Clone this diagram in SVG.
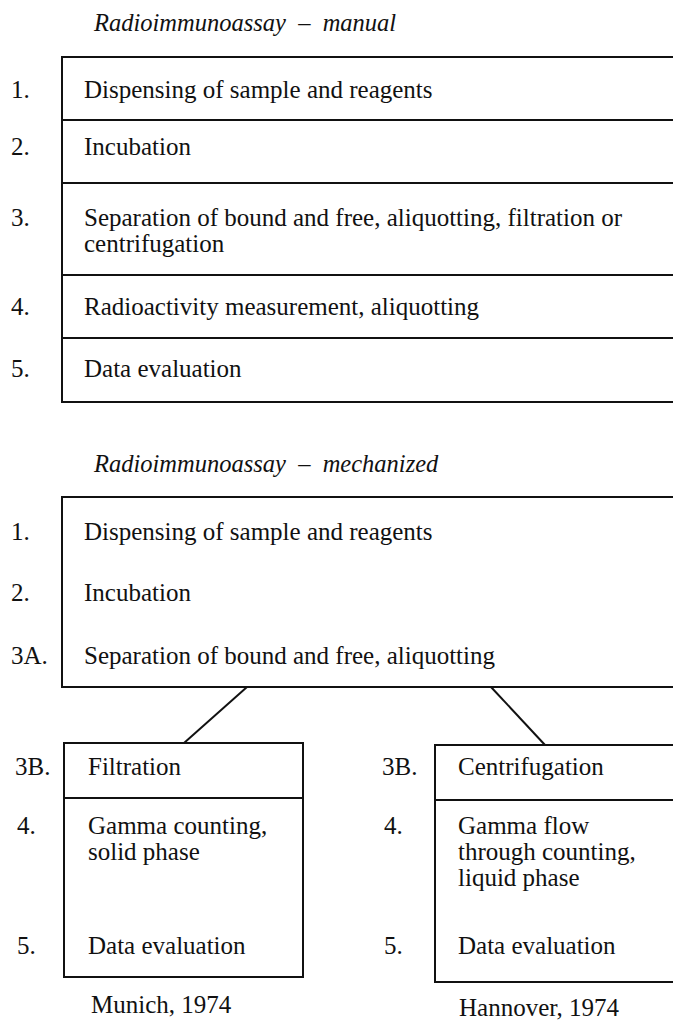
<svg xmlns="http://www.w3.org/2000/svg" width="673" height="1020" viewBox="0 0 673 1020">
  <style>
    .frame { fill: none; stroke: #111; stroke-width: 2; }
    .rule { stroke: #111; stroke-width: 2; }
    .txt { font-family: "Liberation Serif", "Times New Roman", serif; font-size: 25px; fill: #111; }
    .ttl { font-family: "Liberation Serif", "Times New Roman", serif; font-size: 24.5px; font-style: italic; fill: #111; }
  </style>
  <rect width="673" height="1020" fill="#fff"/>

  <!-- Manual procedure -->
  <g id="manual">
    <text class="ttl" x="94" y="31" xml:space="preserve">Radioimmunoassay  –  manual</text>
    <rect class="frame" x="62" y="57" width="630" height="345"/>
    <line class="rule" x1="62" y1="120" x2="673" y2="120"/>
    <line class="rule" x1="62" y1="183" x2="673" y2="183"/>
    <line class="rule" x1="62" y1="275" x2="673" y2="275"/>
    <line class="rule" x1="62" y1="338" x2="673" y2="338"/>
    <text class="txt" x="11" y="98">1.</text>
    <text class="txt" x="84" y="98">Dispensing of sample and reagents</text>
    <text class="txt" x="11" y="155">2.</text>
    <text class="txt" x="84" y="155">Incubation</text>
    <text class="txt" x="11" y="226">3.</text>
    <text class="txt" x="84" y="226">Separation of bound and free, aliquotting, filtration or</text>
    <text class="txt" x="84" y="252">centrifugation</text>
    <text class="txt" x="11" y="315">4.</text>
    <text class="txt" x="84" y="315">Radioactivity measurement, aliquotting</text>
    <text class="txt" x="11" y="377">5.</text>
    <text class="txt" x="84" y="377">Data evaluation</text>
  </g>

  <!-- Mechanized procedure, shared steps -->
  <g id="mechanized">
    <text class="ttl" x="94" y="472" xml:space="preserve">Radioimmunoassay  –  mechanized</text>
    <rect class="frame" x="62" y="497" width="630" height="190"/>
    <text class="txt" x="11" y="540">1.</text>
    <text class="txt" x="84" y="540">Dispensing of sample and reagents</text>
    <text class="txt" x="11" y="601">2.</text>
    <text class="txt" x="84" y="601">Incubation</text>
    <text class="txt" x="11" y="664">3A.</text>
    <text class="txt" x="84" y="664">Separation of bound and free, aliquotting</text>
  </g>

  <!-- Branch connectors -->
  <g id="connectors">
    <line class="rule" x1="247" y1="687" x2="184" y2="743"/>
    <line class="rule" x1="491" y1="687" x2="545" y2="745"/>
  </g>

  <!-- Munich branch -->
  <g id="munich">
    <rect class="frame" x="64" y="743" width="239" height="234"/>
    <line class="rule" x1="64" y1="798" x2="303" y2="798"/>
    <text class="txt" x="15" y="775">3B.</text>
    <text class="txt" x="88" y="775">Filtration</text>
    <text class="txt" x="17" y="834">4.</text>
    <text class="txt" x="88" y="834">Gamma counting,</text>
    <text class="txt" x="88" y="860">solid phase</text>
    <text class="txt" x="17" y="954">5.</text>
    <text class="txt" x="88" y="954">Data evaluation</text>
    <text class="txt" x="91" y="1013">Munich, 1974</text>
  </g>

  <!-- Hannover branch -->
  <g id="hannover">
    <rect class="frame" x="435" y="745" width="260" height="237"/>
    <line class="rule" x1="435" y1="800" x2="673" y2="800"/>
    <text class="txt" x="382" y="775">3B.</text>
    <text class="txt" x="458" y="775">Centrifugation</text>
    <text class="txt" x="384" y="834">4.</text>
    <text class="txt" x="458" y="834">Gamma flow</text>
    <text class="txt" x="458" y="860">through counting,</text>
    <text class="txt" x="458" y="886">liquid phase</text>
    <text class="txt" x="384" y="954">5.</text>
    <text class="txt" x="458" y="954">Data evaluation</text>
    <text class="txt" x="459" y="1016">Hannover, 1974</text>
  </g>
</svg>
